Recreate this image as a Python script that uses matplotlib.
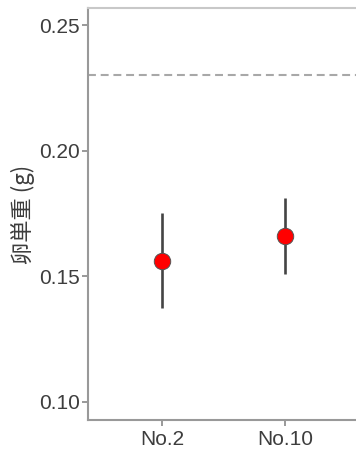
import matplotlib
matplotlib.use("Agg")
import matplotlib.pyplot as plt

plt.rcParams['font.family'] = ['Liberation Sans', 'Noto Sans CJK JP', 'DejaVu Sans']

categories = ["No.2", "No.10"]
means = [0.156, 0.166]
lower = [0.1375, 0.151]
upper = [0.175, 0.181]
ref_value = 0.23
yticks = [0.10, 0.15, 0.20, 0.25]
y_label = "卵単重 (g)"

W, H = 356, 450
fig = plt.figure(figsize=(W/100, H/100), dpi=100)
ax = fig.add_axes([88/W, 1-420/H, (359-88)/W, (420-8)/H])

x = list(range(1, len(categories)+1))
for xi, m, lo, up in zip(x, means, lower, upper):
    ax.plot([xi, xi], [lo, up], color="#444444", lw=1.9, zorder=2, solid_capstyle='butt')
ax.scatter(x, means, s=140, color="#ff0000", edgecolor="#555555", linewidth=0.7, zorder=3)
ax.axhline(ref_value, color="#a8a8a8", lw=1.5, ls=(0, (3.8, 2.3)), zorder=1)

ax.set_xlim(0.4, len(categories)+0.6)
ax.set_ylim(0.0928, 0.2568)
ax.set_xticks(x)
ax.set_xticklabels(categories)
ax.set_yticks(yticks)
ax.set_yticklabels([f"{v:.2f}" for v in yticks])
ax.tick_params(axis='both', colors="#888888", labelcolor="#3d3d3d", labelsize=15, length=4, width=1.2)
ax.tick_params(axis='y', pad=2)
ax.tick_params(axis='x', pad=3)
for s in ['left', 'bottom']:
    ax.spines[s].set_color("#999999")
    ax.spines[s].set_linewidth(1.5)
ax.spines['top'].set_color("#c8c8c8")
ax.spines['top'].set_linewidth(1.5)
ax.spines['right'].set_visible(False)
ax.set_ylabel(y_label, fontsize=16, color="#3d3d3d", labelpad=3,
              family=['Noto Sans CJK JP', 'DejaVu Sans'])

fig.savefig("out.png", dpi=100)
